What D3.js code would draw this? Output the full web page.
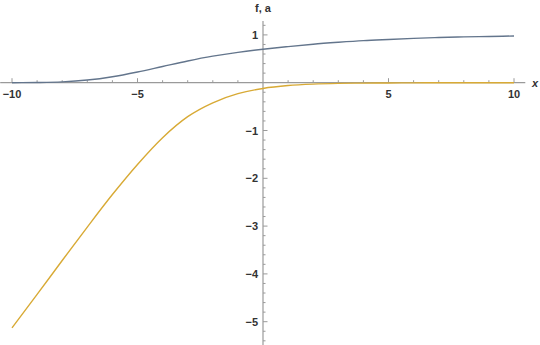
<!DOCTYPE html>
<html><head><meta charset="utf-8">
<script src="https://cdn.jsdelivr.net/npm/d3@7/dist/d3.min.js"></script>
<style>body{margin:0;background:#fff}svg{display:block}</style>
</head><body>
<script>
const xs      = [-10,-9,-8,-7,-6,-5,-4,-3,-2,-1,0,1,2,3,4,5,6,7,8,9,10];
const fVals   = [0.0,0.004,0.017,0.055,0.125,0.225,0.34,0.455,0.555,0.635,0.70,0.755,0.805,0.845,0.88,0.905,0.928,0.945,0.958,0.968,0.977];
const aVals   = [-5.13,-4.43,-3.72,-3.02,-2.34,-1.71,-1.15,-0.71,-0.42,-0.23,-0.12,-0.06,-0.03,-0.015,-0.008,-0.005,-0.003,-0.002,-0.001,-0.001,0];
const xTicks  = [-10,-5,5,10];
const yTicks  = [-5,-4,-3,-2,-1,1];
const xLabel  = "x";
const yLabel  = "f, a";

const W=540,H=345;
const svg=d3.select("body").append("svg").attr("width",W).attr("height",H);
const x=d3.scaleLinear().domain([-10,10]).range([12,514]);
const y=d3.scaleLinear().domain([0,1]).range([82.7,34.9]);
const axisCol="#9a9a9a";
const ax=svg.append("g");
ax.append("line").attr("x1",x(-10.47)).attr("x2",x(10.45)).attr("y1",y(0)).attr("y2",y(0)).attr("stroke",axisCol).attr("stroke-width",1.2);
ax.append("line").attr("x1",x(0)).attr("x2",x(0)).attr("y1",y(1.29)).attr("y2",H).attr("stroke",axisCol).attr("stroke-width",1.2);
d3.range(-10,10.01,1).forEach(v=>{ if(v===0) return;
  const major=v%5===0;
  ax.append("line").attr("x1",x(v)).attr("x2",x(v)).attr("y1",y(0)).attr("y2",y(0)-(major?4.5:2.5)).attr("stroke",axisCol).attr("stroke-width",1);
});
d3.range(-5.4,1.21,0.2).forEach(v=>{ v=Math.round(v*10)/10; if(Math.abs(v)<1e-9) return;
  const major=Math.abs(v-Math.round(v))<1e-9;
  ax.append("line").attr("x1",x(0)).attr("x2",x(0)+(major?4.5:2.5)).attr("y1",y(v)).attr("y2",y(v)).attr("stroke",axisCol).attr("stroke-width",1);
});
const font="Liberation Sans, Arial, sans-serif";
ax.selectAll("text.xt").data(xTicks).join("text").attr("x",d=>x(d)).attr("y",y(0)+15)
  .attr("text-anchor","middle").attr("font-family",font).attr("font-size",11).attr("font-weight","bold").attr("fill","#333")
  .text(d=>d<0?"\u2212"+(-d):d);
ax.selectAll("text.yt").data(yTicks).join("text").attr("x",x(0)-5).attr("y",d=>y(d)+4)
  .attr("text-anchor","end").attr("font-family",font).attr("font-size",11).attr("font-weight","bold").attr("fill","#333")
  .text(d=>d<0?"\u2212"+(-d):d);
svg.append("text").attr("x",x(0)).attr("y",12).attr("text-anchor","middle").attr("font-family",font).attr("font-size",11).attr("font-weight","bold").attr("fill","#333").text(yLabel);
svg.append("text").attr("x",532).attr("y",y(0)+4).attr("text-anchor","start").attr("font-family",font).attr("font-size",11).attr("font-weight","bold").attr("font-style","italic").attr("fill","#333").text(xLabel);

const line=d3.line().x(d=>x(d[0])).y(d=>y(d[1])).curve(d3.curveMonotoneX);
svg.append("path").datum(xs.map((v,i)=>[v,fVals[i]])).attr("d",line).attr("fill","none").attr("stroke","#63758c").attr("stroke-width",1.4);
svg.append("path").datum(xs.map((v,i)=>[v,aVals[i]])).attr("d",line).attr("fill","none").attr("stroke","#d8aa35").attr("stroke-width",1.4);
</script>
</body></html>
